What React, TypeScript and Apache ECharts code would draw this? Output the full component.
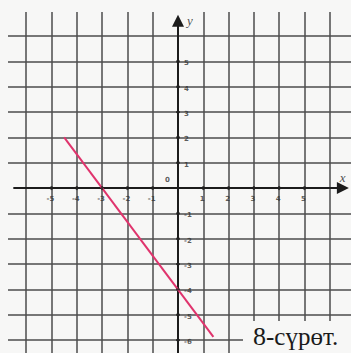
import React, { useEffect, useRef } from "react";
import * as echarts from "echarts";

// ---- data ----
const gridXValues = [-6, -5, -4, -3, -2, -1, 1, 2, 3, 4, 5, 6];
const gridYValues = [-6, -5, -4, -3, -2, -1, 1, 2, 3, 4, 5, 6];
const xTicks = [-5, -4, -3, -2, -1, 1, 2, 3, 4, 5];
const xTickLabels = ["-5", "-4", "-3", "-2", "-1", "1", "2", "3", "4", "5"];
const yTicks = [5, 4, 3, 2, 1, -1, -2, -3, -4, -5, -6];
const yTickLabels = ["5", "4", "3", "2", "1", "-1", "-2", "-3", "-4", "-5", "-6"];
// graph of y = -4/3 x - 4, segment drawn in the figure
const lineXs = [-4.5, 1.4];
const lineYs = [2, -5.87];
const caption = ["8", "-сүрөт."];

// view extents
const X_MIN = -6.72;
const X_MAX = 6.84;
const Y_MIN = -6.51;
const Y_MAX = 6.95;

const BG = "#f7f7f6";

export default function App() {
  const ref = useRef<HTMLDivElement>(null);

  useEffect(() => {
    if (!ref.current) return;
    const chart = echarts.init(ref.current, undefined, { renderer: "svg" });

    const labelFont = {
      fontSize: 7,
      fontWeight: "bold",
      fontFamily: "DejaVu Sans",
      color: "#333",
    };

    const option: any = {
      animation: false,
      backgroundColor: BG,
      grid: { left: 8, right: 0, top: 12, bottom: 0 },
      xAxis: { type: "value", min: X_MIN, max: X_MAX, show: false },
      yAxis: { type: "value", min: Y_MIN, max: Y_MAX, show: false },
      series: [
        {
          name: "grid",
          type: "line",
          data: [],
          z: 1,
          markLine: {
            silent: true,
            symbol: ["none", "none"],
            label: { show: false },
            lineStyle: { color: "#4d4d4d", width: 1.5, type: "solid" },
            data: [
              ...gridXValues.map((v) => ({ xAxis: v })),
              ...gridYValues.map((v) => ({ yAxis: v })),
            ],
          },
        },
        {
          name: "axes",
          type: "line",
          data: [],
          z: 3,
          markLine: {
            silent: true,
            symbol: ["none", "triangle"],
            symbolSize: 12,
            label: { show: false },
            lineStyle: { color: "#1c1c1c", width: 2, type: "solid" },
            itemStyle: { color: "#1c1c1c" },
            data: [
              [{ coord: [-6.51, 0] }, { coord: [6.52, 0] }],
              [{ coord: [0, Y_MIN] }, { coord: [0, 6.6] }],
            ],
          },
        },
        {
          name: "y = -4/3x - 4",
          type: "line",
          z: 5,
          showSymbol: false,
          lineStyle: { color: "#e0346d", width: 2 },
          data: lineXs.map((x, i) => [x, lineYs[i]]),
        },
        {
          name: "xticks",
          type: "scatter",
          z: 6,
          symbol: "rect",
          symbolSize: [2, 4],
          itemStyle: { color: "#222" },
          data: xTicks.map((v) => [v, 0]),
          label: {
            show: true,
            position: "bottom",
            distance: 5,
            offset: [-1, 0],
            ...labelFont,
            formatter: (p: any) => xTickLabels[p.dataIndex],
          },
        },
        {
          name: "yticks",
          type: "scatter",
          z: 6,
          symbol: "rect",
          symbolSize: [4, 2],
          itemStyle: { color: "#222" },
          data: yTicks.map((v) => [0, v]),
          label: {
            show: true,
            position: "right",
            distance: 4,
            offset: [0, 2],
            ...labelFont,
            formatter: (p: any) => yTickLabels[p.dataIndex],
          },
        },
        {
          name: "origin",
          type: "scatter",
          z: 6,
          symbolSize: 0,
          data: [[0, 0]],
          label: {
            show: true,
            position: "left",
            distance: 8,
            offset: [0, -8],
            ...labelFont,
            formatter: "0",
          },
        },
        {
          name: "axisNames",
          type: "scatter",
          z: 6,
          symbolSize: 0,
          data: [
            [6.51, 0.4],
            [0.47, 6.63],
          ],
          label: {
            show: true,
            position: "inside",
            fontSize: 13,
            fontStyle: "italic",
            fontFamily: "Liberation Serif",
            color: "#222",
            formatter: (p: any) => (p.dataIndex === 0 ? "x" : "y"),
          },
        },
      ],
      graphic: [
        {
          type: "rect",
          z: 100,
          shape: { x: 243, y: 321, width: 108, height: 32 },
          style: { fill: BG },
        },
        {
          type: "text",
          z: 101,
          x: 253,
          y: 336,
          style: {
            text: `{a|${caption[0]}}{b|${caption[1]}}`,
            fill: "#1a1a1a",
            verticalAlign: "middle",
            align: "left",
            rich: {
              a: {
                fontSize: 26,
                fontFamily: "Liberation Serif",
                fill: "#1a1a1a",
                verticalAlign: "bottom",
              },
              b: {
                fontSize: 25,
                fontFamily: "Liberation Serif",
                fill: "#1a1a1a",
                verticalAlign: "bottom",
              },
            },
          },
        },
      ],
    };

    chart.setOption(option);
    return () => chart.dispose();
  }, []);

  return (
    <div
      ref={ref}
      style={{ width: 351, height: 353, position: "absolute", left: 0, top: 0 }}
    />
  );
}
